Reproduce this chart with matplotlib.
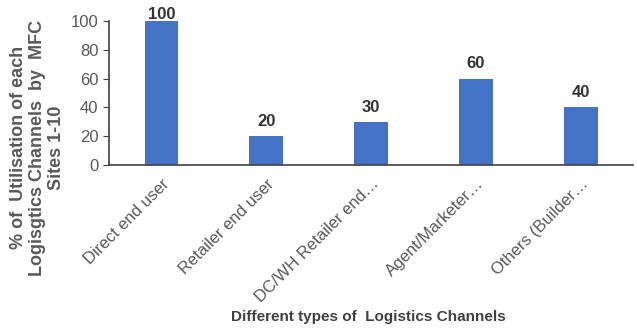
import matplotlib.pyplot as plt
import numpy as np

channels = ["Direct end user", "Retailer end user", "DC/WH Retailer end\u2026",
            "Agent/Marketer\u2026", "Others (Builder\u2026"]
utilisation = [100, 20, 30, 60, 40]

plt.rcParams['font.family'] = ['Liberation Sans', 'DejaVu Sans']

fig = plt.figure(figsize=(6.37, 3.28), dpi=100)
ax = fig.add_axes([0.171, 0.497, 0.823, 0.439])

x = np.arange(len(channels))
bars = ax.bar(x, utilisation, width=0.32, color='#4472C4')
for b, v in zip(bars, utilisation):
    # labels that would leave the plot area sit on the bar top instead
    ax.text(b.get_x() + b.get_width() / 2, min(v + 5, 99), str(v), ha='center', va='bottom',
            fontsize=12, fontweight='bold', color='#333333')

ax.set_xlim(-0.5, len(channels) - 0.5)
ax.set_ylim(0, 100)
ax.set_yticks(range(0, 101, 20))
ax.set_xticks(x)
ax.set_xticklabels(channels, rotation=45, ha='right', rotation_mode='anchor')
ax.tick_params(axis='x', length=0, labelsize=12, colors='#595959', pad=8)
ax.tick_params(axis='y', length=4, labelsize=12, labelcolor='#595959', color='#404040')
for s in ['top', 'right']:
    ax.spines[s].set_visible(False)
for s in ['left', 'bottom']:
    ax.spines[s].set_color('#404040')
    ax.spines[s].set_linewidth(1.2)

ax.set_ylabel("% of  Utilisation of each\nLogisgtics Channels  by  MFC\nSites 1-10",
              fontsize=13, fontweight='bold', color='#595959', linespacing=1.15)
ax.yaxis.set_label_coords(-0.084, 0.12)
fig.text(0.578, 0.035, "Different types of  Logistics Channels", ha='center', va='center',
         fontsize=11, fontweight='bold', color='#404040')

fig.savefig('out.png', dpi=100)
